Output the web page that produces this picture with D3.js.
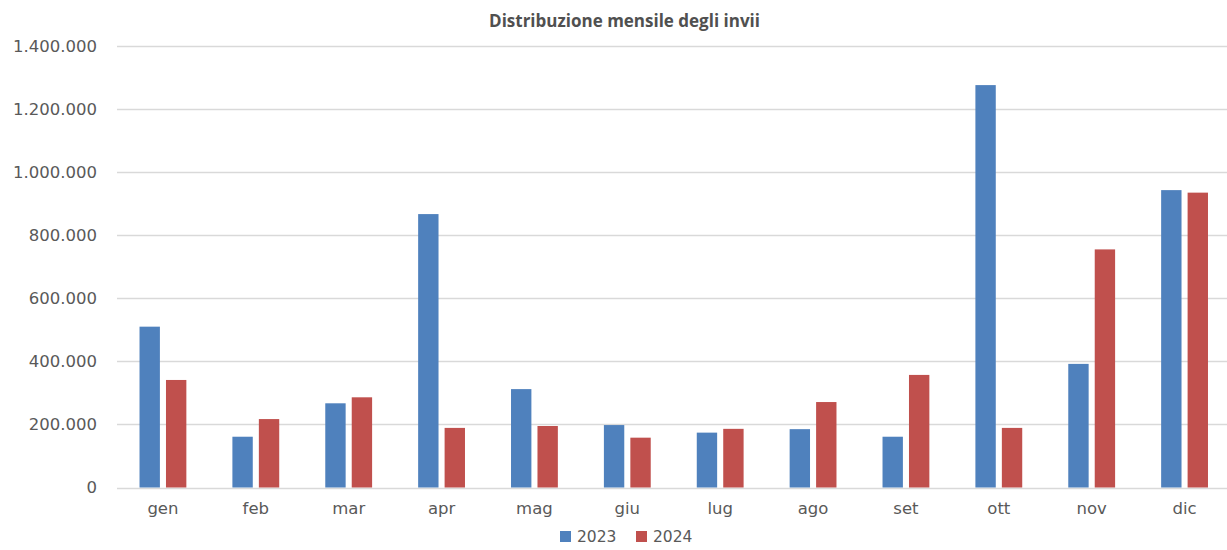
<!DOCTYPE html>
<html>
<head>
<meta charset="utf-8">
<script src="https://cdn.jsdelivr.net/npm/d3@7"></script>
<style>
  body { margin: 0; background: #fff; }
  text { font-family: "DejaVu Sans", sans-serif; }
</style>
</head>
<body>
<script>
// data
const months = ["gen", "feb", "mar", "apr", "mag", "giu", "lug", "ago", "set", "ott", "nov", "dic"]
const years = ["2023", "2024"]
const values2023 = [510000, 161000, 267000, 867000, 312000, 198000, 174000, 185000, 161000, 1276000, 392000, 943000]
const values2024 = [341000, 217000, 286000, 189000, 195000, 158000, 186000, 271000, 357000, 189000, 755000, 935000]
const yTicks = [0, 200000, 400000, 600000, 800000, 1000000, 1200000, 1400000]

const W = 1227, H = 550
const colors = {"2023": "#4f81bd", "2024": "#c0504d"}
const series = {"2023": values2023, "2024": values2024}
const labelSize = "16.5px"

const svg = d3.select("body").append("svg")
    .attr("width", W)
    .attr("height", H)

const x = d3.scaleBand()
    .domain(months)
    .range([116.5, 1231])

const inner = d3.scaleBand()
    .domain(years)
    .range([0, x.bandwidth()])
    .paddingInner(0.23)
    .paddingOuter(0.87)

const y = d3.scaleLinear()
    .domain([0, 1400000])
    .range([487.5, 46])

const fmt = d3.formatLocale({decimal: ",", thousands: ".", grouping: [3], currency: ["", "€"]}).format(",")

// gridlines
svg.append("g")
    .selectAll("line")
    .data(yTicks)
    .join("line")
        .attr("x1", 117)
        .attr("x2", W)
        .attr("y1", d => Math.round(y(d)) + 0.5)
        .attr("y2", d => Math.round(y(d)) + 0.5)
        .attr("stroke", "#d9d9d9")
        .attr("stroke-width", 1.3)

// y axis labels
const yAxis = svg.append("g")
    .attr("transform", "translate(97,0)")
    .call(d3.axisLeft(y).tickValues(yTicks).tickFormat(fmt).tickSize(0).tickPadding(0))
yAxis.select(".domain").remove()
yAxis.selectAll("text")
    .attr("fill", "#595959")
    .attr("font-size", labelSize)
    .attr("font-family", "DejaVu Sans, sans-serif")

// bars
const groups = svg.append("g")
    .selectAll("g")
    .data(months)
    .join("g")
        .attr("transform", d => "translate(" + x(d) + ",0)")

groups.selectAll("rect")
    .data((m, i) => years.map(yr => ({year: yr, value: series[yr][i]})))
    .join("rect")
        .attr("x", d => inner(d.year))
        .attr("width", inner.bandwidth())
        .attr("y", d => y(d.value))
        .attr("height", d => y(0) - y(d.value))
        .attr("fill", d => colors[d.year])

// x axis labels
const xAxis = svg.append("g")
    .attr("transform", "translate(0,502)")
    .call(d3.axisBottom(x).tickSize(0).tickPadding(0))
xAxis.select(".domain").remove()
xAxis.selectAll("text")
    .attr("fill", "#595959")
    .attr("font-size", labelSize)
    .attr("font-family", "DejaVu Sans, sans-serif")

// title
svg.append("text")
    .attr("x", 624.5)
    .attr("y", 27)
    .attr("text-anchor", "middle")
    .attr("font-size", "17px")
    .attr("font-weight", "bold")
    .attr("fill", "#505050")
    .style("font-family", "'Open Sans', sans-serif")
    .text("Distribuzione mensile degli invii")

// legend
const legend = svg.append("g")
    .attr("transform", "translate(560,531)")
const item = legend.selectAll("g")
    .data(years)
    .join("g")
        .attr("transform", (d, i) => "translate(" + (i * 76) + ",0)")
item.append("rect")
    .attr("width", 11)
    .attr("height", 11)
    .attr("fill", d => colors[d])
item.append("text")
    .attr("x", 17)
    .attr("y", 11)
    .attr("fill", "#595959")
    .attr("font-size", "15.5px")
    .text(d => d)
</script>
</body>
</html>
